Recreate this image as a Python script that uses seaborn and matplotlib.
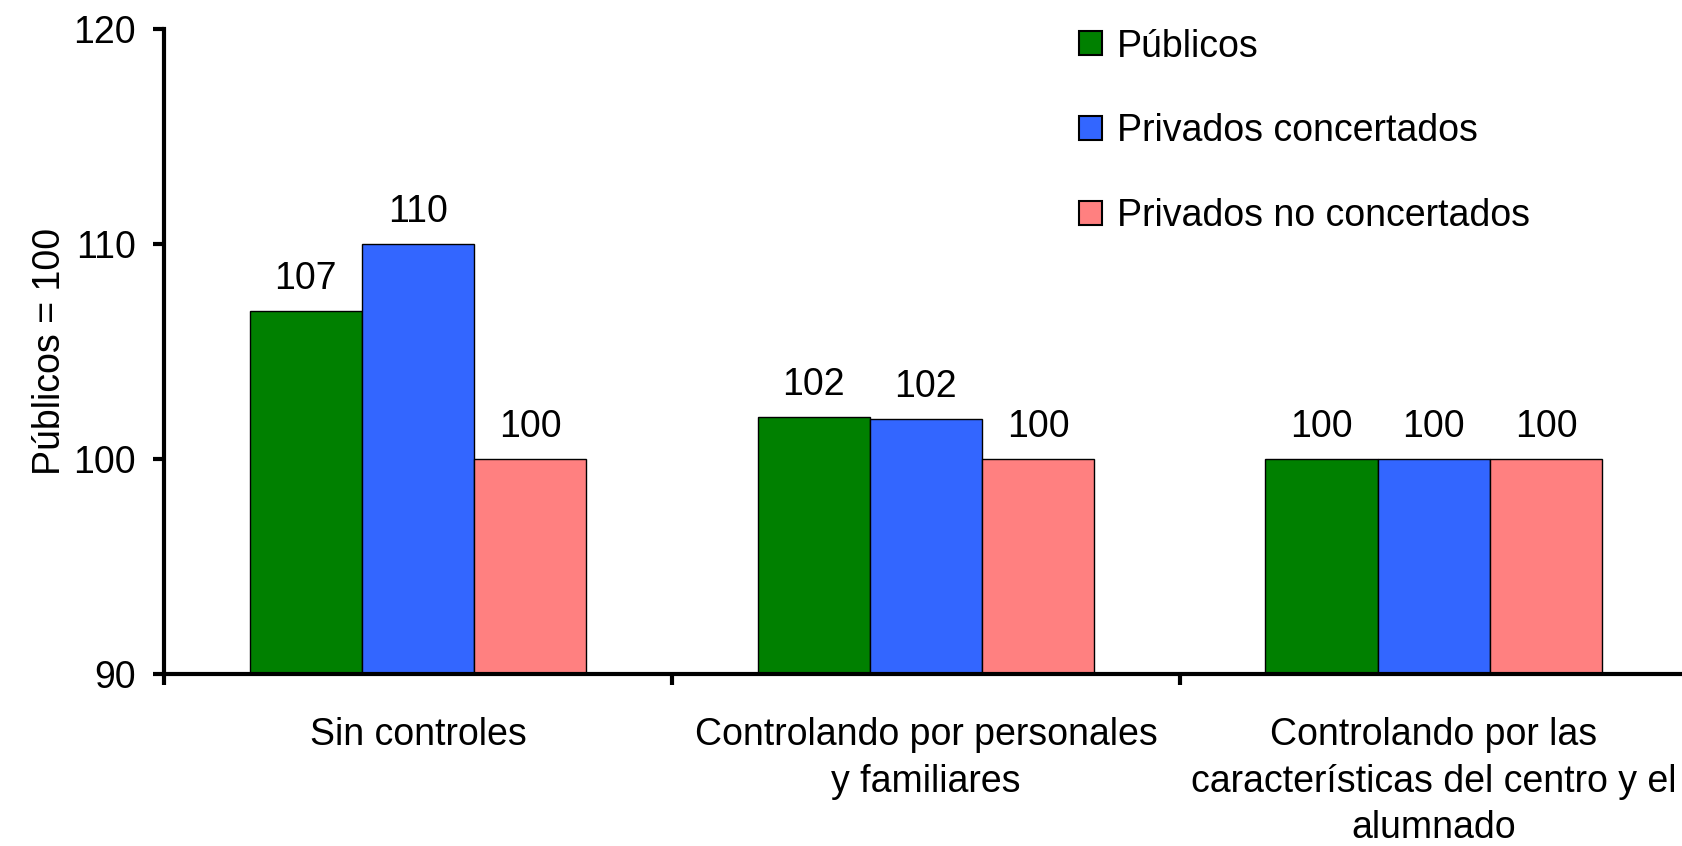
import pandas as pd
import matplotlib.pyplot as plt
import seaborn as sns

# Data
categorias = ['Sin controles',
              'Controlando por personales\ny familiares',
              'Controlando por las\ncaracterísticas del centro y el\nalumnado']
tipos = ['Públicos', 'Privados concertados', 'Privados no concertados']
publicos = [106.9, 101.95, 100.0]
concertados = [110.0, 101.85, 100.0]
no_concertados = [100.0, 100.0, 100.0]
colores = ['#008000', '#3366FF', '#FF8080']

df = pd.DataFrame({
    'categoria': categorias * 3,
    'tipo': [t for t in tipos for _ in categorias],
    'valor': publicos + concertados + no_concertados,
})

sns.set_style('white')
plt.rcParams['font.family'] = ['Liberation Sans', 'DejaVu Sans']
plt.rcParams['text.color'] = 'black'
plt.rcParams['axes.labelcolor'] = 'black'
plt.rcParams['xtick.color'] = 'black'
plt.rcParams['ytick.color'] = 'black'

fs = 27

fig = plt.figure(figsize=(16.83, 8.46), dpi=100)
ax = fig.add_axes([0.0974, 0.2033, 0.9055, 0.7624])

sns.barplot(data=df, x='categoria', y='valor', hue='tipo', order=categorias,
            hue_order=tipos, palette=colores, width=0.663, gap=0,
            edgecolor='black', linewidth=1, saturation=1, ax=ax)

for cont in ax.containers:
    ax.bar_label(cont, labels=[f'{v:.0f}' for v in cont.datavalues],
                 padding=10, fontsize=fs)

ax.set_ylim(90, 120)
ax.set_xlim(-0.5, 2.5)
ax.set_yticks([90, 100, 110, 120])
ax.set_ylabel('Públicos = 100', fontsize=fs, labelpad=4)
ax.set_xlabel('')

# category labels without marks, marks between categories
ax.set_xticks([0, 1, 2])
ax.set_xticklabels(categorias, fontsize=fs, linespacing=1.38)
ax.set_xticks([-0.5, 0.5, 1.5, 2.5], minor=True)
ax.tick_params(axis='x', which='major', length=0, pad=31)
ax.tick_params(axis='x', which='minor', length=8, width=3, direction='out',
               bottom=True)
ax.tick_params(axis='y', length=8, width=3, direction='out', left=True,
               labelsize=fs, pad=12)

for side in ['top', 'right']:
    ax.spines[side].set_visible(False)
for side in ['left', 'bottom']:
    ax.spines[side].set_linewidth(3)
    ax.spines[side].set_color('black')

leg = ax.legend(loc='upper left', bbox_to_anchor=(0.632, 0.984),
                bbox_transform=fig.transFigure, frameon=False, fontsize=fs,
                handlelength=0.62, handleheight=0.62, handletextpad=0.4,
                labelspacing=1.3, borderaxespad=0)
for h in leg.legend_handles:
    h.set_edgecolor('black')
    h.set_linewidth(1.5)

fig.savefig('out.png', dpi=100)
